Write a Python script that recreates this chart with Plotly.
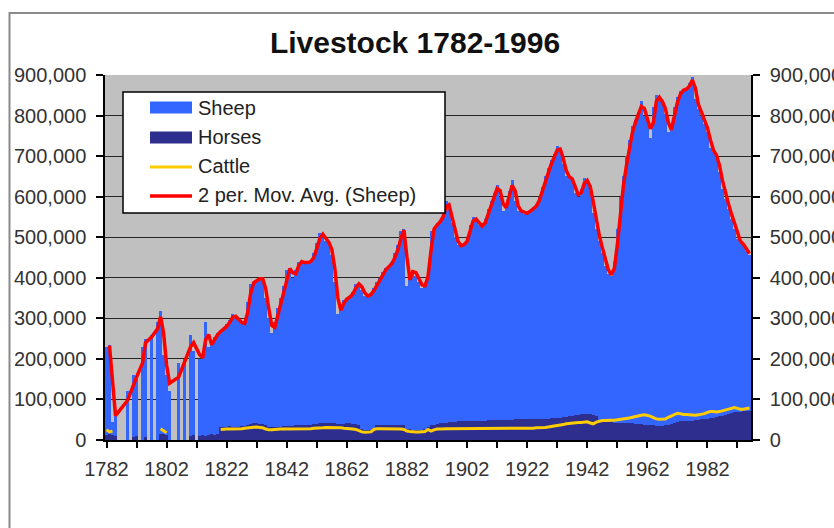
import plotly.graph_objects as go

# ---------------- data (thousands of head) ----------------
years = list(range(1782, 1997))

# 1782-1819 (None = no record)
sheep_early = [230, 235, 45, 75, None, None, None, 120, None, 160,
               150, None, 230, 250, None, 258, None, 290, 318, 210,
               160, 120, None, None, 190, None, 200, None, 260, 220,
               None, 200, 205, 290, 230, 240, 255, 265]
# 1820-1996
sheep_main = [270, 275, 285, 295, 310, 300, 295, 285, 290, 340,
              385, 390, 395, 400, 395, 350, 300, 265, 290, 325,
              350, 380, 420, 425, 400, 420, 440, 440, 435, 440,
              440, 460, 485, 510, 505, 490, 485, 455, 390, 310,
              330, 345, 350, 355, 365, 385, 385, 370, 355, 355,
              362, 375, 390, 400, 415, 425, 430, 440, 460, 480,
              515, 520, 380, 410, 420, 405, 390, 375, 385, 420,
              515, 525, 535, 540, 560, 590, 570, 535, 500, 480,
              478, 485, 495, 530, 550, 540, 530, 525, 545, 570,
              590, 610, 630, 600, 565, 580, 615, 640, 590, 565,
              565, 558, 560, 568, 572, 580, 600, 625, 650, 670,
              690, 705, 725, 710, 680, 650, 648, 640, 610, 600,
              620, 645, 635, 615, 560, 520, 490, 460, 430, 410,
              405, 440, 520, 600, 650, 700, 740, 775, 790, 810,
              835, 800, 790, 745, 820, 850, 840, 830, 805, 760,
              770, 820, 845, 860, 865, 865, 880, 895, 840, 815,
              800, 780, 760, 720, 710, 695, 660, 620, 595, 570,
              545, 520, 495, 485, 480, 465, 455]

horses_early = [12, 15, 12, 10, None, None, None, None, None, 8,
                10, None, None, 8, None, None, None, None, 14, 16,
                12, None, None, None, None, None, None, None, 10, 12,
                None, 10, 12, 10, 12, 14, 12, 14]
horses_main = [32, 33, 33, 34, 33, 32, 33, 34, 35, 38,
               40, 41, 41, 40, 39, 36, 33, 32, 32, 33,
               33, 34, 34, 35, 35, 36, 36, 37, 37, 38,
               38, 39, 40, 41, 41, 42, 42, 42, 41, 40,
               40, 40, 41, 41, 40, 40, 38, 28, 25, 24,
               25, 30, 36, 37, 37, 38, 38, 38, 37, 37,
               38, 37, 28, 26, 25, 25, 25, 24, 26, 33,
               36, 38, 40, 41, 42, 43, 44, 45, 45, 46,
               46, 46, 47, 47, 47, 48, 48, 48, 48, 49,
               49, 49, 49, 50, 50, 50, 50, 50, 51, 51,
               51, 51, 51, 52, 52, 52, 52, 53, 53, 53,
               54, 54, 55, 55, 56, 57, 58, 60, 61, 62,
               63, 64, 64, 64, 62, 58, 50, 46, 45, 44,
               44, 43, 43, 42, 42, 42, 41, 41, 40, 40,
               39, 38, 37, 36, 36, 35, 35, 35, 36, 37,
               40, 43, 45, 46, 46, 47, 47, 48, 49, 50,
               51, 52, 53, 54, 55, 57, 58, 60, 62, 64,
               66, 68, 69, 70, 71, 72, 72]

cattle_early = [25, 20, 22, None, None, None, None, None, None, None,
                None, None, None, None, None, None, None, None, 28, 24,
                18, None, None, None, None, None, None, None, None, None,
                None, None, None, None, None, None, None, None]
cattle_main = [26, 27, 27, 27, 27, 27, 28, 28, 29, 30,
               31, 31, 32, 31, 30, 27, 25, 25, 26, 27,
               27, 27, 27, 27, 27, 28, 28, 28, 28, 28,
               28, 29, 29, 30, 30, 31, 31, 31, 31, 30,
               30, 29, 29, 28, 27, 26, 23, 20, 19, 19,
               20, 26, 28, 28, 28, 28, 28, 28, 28, 27,
               27, 26, 22, 21, 20, 20, 20, 20, 21, 26,
               22, 25, 27, 27, 28, 28, 28, 28, 28, 28,
               28, 28, 28, 28, 28, 28, 28, 28, 28, 28,
               28, 28, 28, 28, 28, 29, 29, 29, 28, 28,
               28, 28, 28, 29, 29, 30, 30, 31, 31, 32,
               33, 34, 35, 36, 38, 40, 41, 42, 42, 43,
               43, 44, 45, 42, 40, 44, 47, 48, 48, 49,
               49, 49, 50, 50, 51, 52, 54, 56, 58, 59,
               61, 62, 61, 59, 55, 52, 51, 51, 52, 56,
               60, 63, 66, 65, 63, 63, 62, 62, 61, 62,
               63, 65, 68, 70, 70, 69, 70, 72, 74, 77,
               79, 80, 78, 76, 76, 77, 79]

UNIT = 1000
x_tick_years = list(range(1782, 1997, 10))
legend_labels = ["Sheep", "Horses", "Cattle", "2 per. Mov. Avg. (Sheep)"]

def scale(vals):
    return [None if v is None else v * UNIT for v in vals]

sheep = scale(sheep_early + sheep_main)
horses = scale(horses_early + horses_main)
cattle = scale(cattle_early + cattle_main)

# 2-period moving average over the recorded sheep points
pts = [(yr, v) for yr, v in zip(years, sheep) if v is not None]
ma_x = [pts[k][0] for k in range(1, len(pts))]
ma_y = [(pts[k - 1][1] + pts[k][1]) / 2 for k in range(1, len(pts))]

C_SHEEP = "#3366FF"
C_HORSE = "#2E2E8F"
C_CATTLE = "#FFCC00"
C_MA = "#FF0000"
FONT = "Liberation Sans, Arial, sans-serif"

fig = go.Figure()
fig.add_trace(go.Bar(x=years, y=sheep, width=1, name="Sheep",
                     marker=dict(color=C_SHEEP, line=dict(width=0))))
fig.add_trace(go.Scatter(x=ma_x, y=ma_y, mode="lines", name=legend_labels[3],
                         line=dict(color=C_MA, width=3.5)))
fig.add_trace(go.Bar(x=years, y=horses, width=1, name="Horses", yaxis="y2",
                     marker=dict(color=C_HORSE, line=dict(width=0))))
fig.add_trace(go.Scatter(x=years, y=cattle, mode="lines", name="Cattle", yaxis="y2",
                         connectgaps=False, line=dict(color=C_CATTLE, width=3)))

# plot area in pixels
L, R, T, B = 105, 751, 75, 440
W, H = 834, 528

def px(x):
    return (x - L) / (R - L)

def py(y):
    return (B - y) / (B - T)

shapes = []
# outer chart border
shapes.append(dict(type="rect", xref="paper", yref="paper",
                   x0=px(9.5), x1=px(900), y0=py(600), y1=py(13),
                   line=dict(color="#8a8a8a", width=2), fillcolor="rgba(0,0,0,0)",
                   layer="above"))
# legend box
shapes.append(dict(type="rect", xref="paper", yref="paper",
                   x0=px(123), x1=px(445), y0=py(213), y1=py(92),
                   line=dict(color="black", width=1.5), fillcolor="white", layer="above"))
sw_x0, sw_x1 = px(150), px(192)
shapes.append(dict(type="rect", xref="paper", yref="paper", x0=sw_x0, x1=sw_x1,
                   y0=py(113.5), y1=py(101.5), line=dict(width=0), fillcolor=C_SHEEP, layer="above"))
shapes.append(dict(type="rect", xref="paper", yref="paper", x0=sw_x0, x1=sw_x1,
                   y0=py(143.5), y1=py(131.5), line=dict(width=0), fillcolor=C_HORSE, layer="above"))
shapes.append(dict(type="line", xref="paper", yref="paper", x0=sw_x0, x1=sw_x1,
                   y0=py(167), y1=py(167), line=dict(color=C_CATTLE, width=3), layer="above"))
shapes.append(dict(type="line", xref="paper", yref="paper", x0=sw_x0, x1=sw_x1,
                   y0=py(196), y1=py(196), line=dict(color=C_MA, width=3.5), layer="above"))

annotations = []
for label, yc in zip(legend_labels, [107.5, 137, 166, 195]):
    annotations.append(dict(text=label, xref="paper", yref="paper", x=px(196), y=py(yc),
                            xanchor="left", yanchor="middle", showarrow=False,
                            font=dict(family=FONT, size=20, color="#222")))

tickfont = dict(family=FONT, size=20, color="#333")
yax_common = dict(range=[0, 900000], dtick=100000, tickformat=",d", zeroline=False,
                  showline=True, linecolor="black", linewidth=1.5,
                  ticks="outside", ticklen=7, tickcolor="black", tickwidth=1.5,
                  tickfont=tickfont, fixedrange=True, automargin=False)

fig.update_layout(
    width=W, height=H,
    margin=dict(l=L, r=W - R, t=T, b=H - B, pad=0),
    paper_bgcolor="white", plot_bgcolor="#C0C0C0",
    barmode="overlay", bargap=0, showlegend=False,
    title=dict(text="<b>Livestock 1782-1996</b>", xref="container", yref="container",
               x=415 / W, y=1 - 42 / H, xanchor="center", yanchor="middle",
               font=dict(family=FONT, size=30, color="#111")),
    xaxis=dict(range=[1781.5, 1996.5], tickvals=x_tick_years,
               ticktext=[str(t) if (t - 1782) % 20 == 0 else "" for t in x_tick_years],
               ticks="outside", ticklen=6, tickcolor="black", tickwidth=1.5,
               showline=True, linecolor="black", linewidth=1.5,
               showgrid=False, zeroline=False, tickfont=tickfont,
               ticklabelstandoff=4, automargin=False, fixedrange=True),
    yaxis=dict(**yax_common, showgrid=True, gridcolor="#262626", gridwidth=1.2,
               ticklabelstandoff=6),
    yaxis2=dict(**yax_common, overlaying="y", side="right", showgrid=False,
                ticklabelstandoff=6),
    shapes=shapes,
    annotations=annotations,
)

fig.write_html("out.html", config={"displayModeBar": False},
               post_script="document.body.style.margin='0';document.body.style.overflow='hidden';")
